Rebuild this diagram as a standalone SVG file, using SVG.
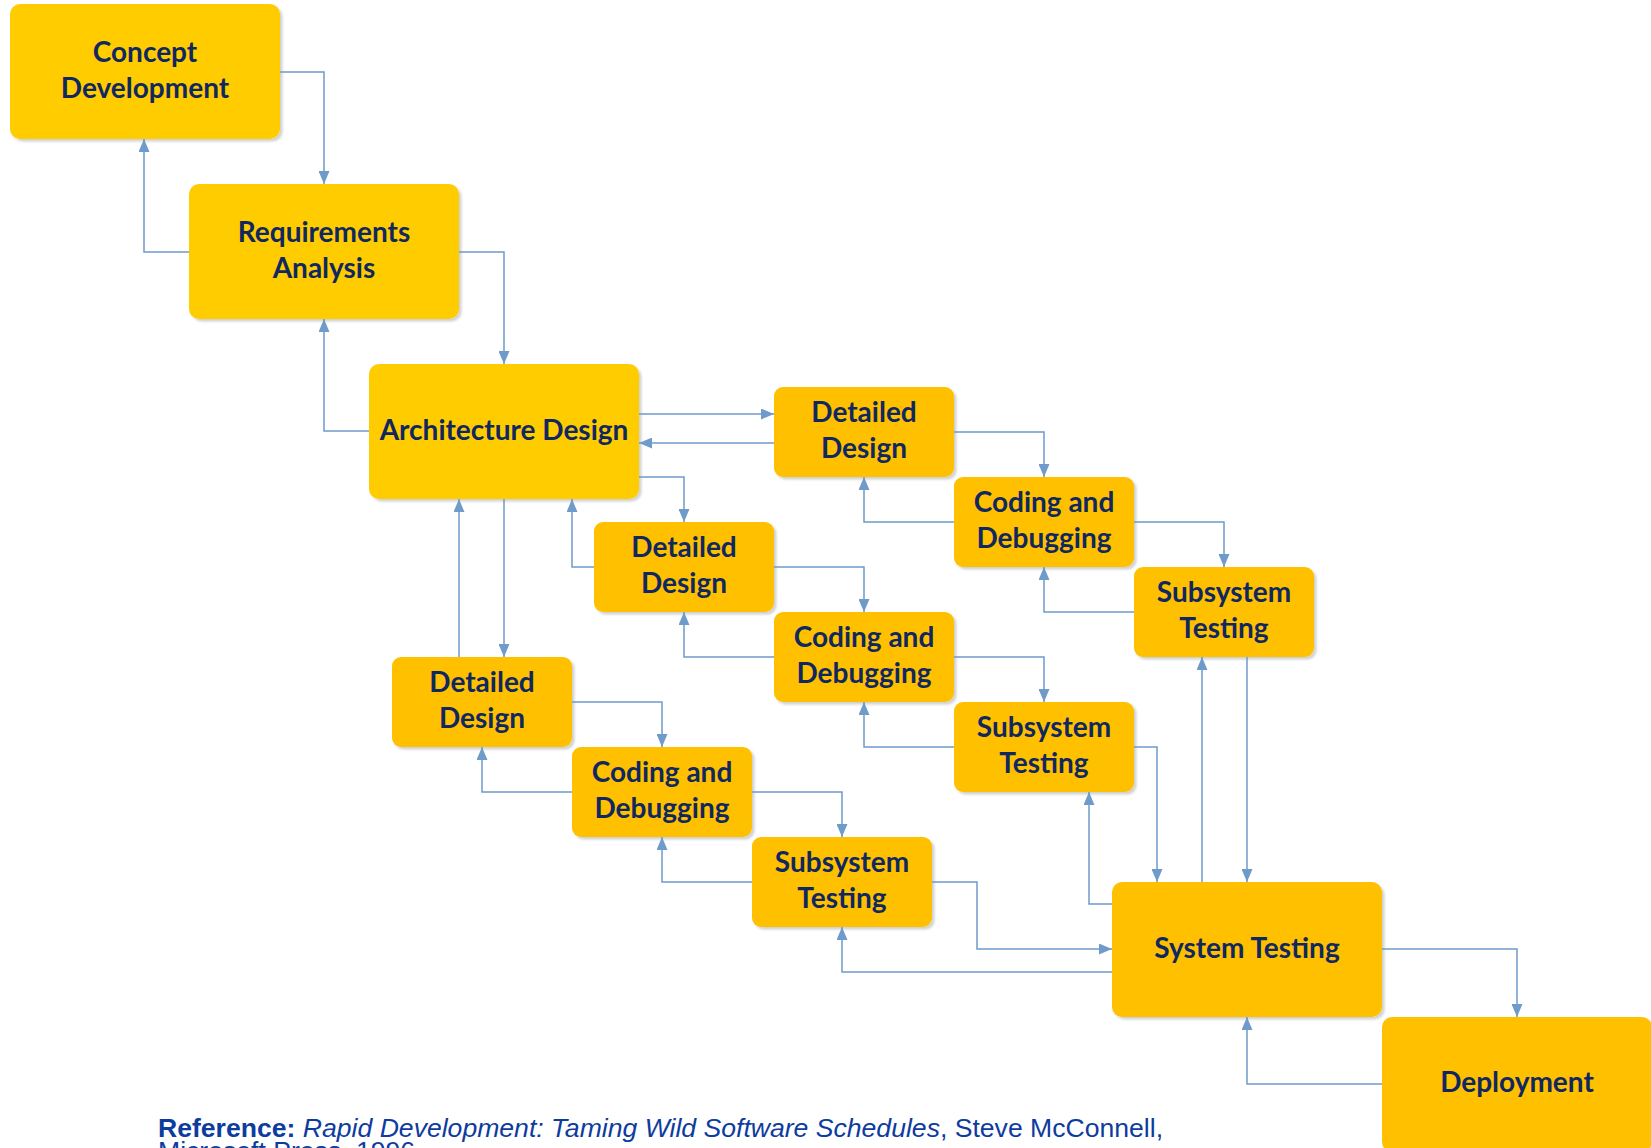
<svg xmlns="http://www.w3.org/2000/svg" width="1651" height="1148" viewBox="0 0 1651 1148">
<defs>
<style>
.big{fill:#FFCC00}
.sm{fill:#FFC000}
.node rect{filter:url(#sh)}
.lbl{font-family:Lato,"Liberation Sans",sans-serif;font-weight:700;font-size:28px;fill:#10285F;text-anchor:middle}
.conn path{fill:none;stroke:#6F9BCB;stroke-width:1.5;marker-end:url(#ah)}
.ref{font-family:"Liberation Sans",Arial,sans-serif;font-size:25px;fill:#0E3C9E}
</style>
<marker id="ah" markerUnits="userSpaceOnUse" markerWidth="13" markerHeight="11" refX="13" refY="5.5" orient="auto">
<path d="M0,0 L13,5.5 L0,11 z" fill="#6F9BCB"/>
</marker>
<filter id="sh" x="-5%" y="-5%" width="115%" height="120%">
<feDropShadow dx="2.5" dy="2.5" stdDeviation="1" flood-color="#000" flood-opacity="0.18"/>
</filter>
</defs>
<rect width="1651" height="1148" fill="#FFFFFF"/>

<g id="concept" class="node"><rect class="big" x="10" y="4" width="270" height="135" rx="10"/><text class="lbl" x="145" y="61.5">Concept</text><text class="lbl" x="145" y="97.5">Development</text></g>
<g id="requirements" class="node"><rect class="big" x="189" y="184" width="270" height="135" rx="10"/><text class="lbl" x="324" y="241.5">Requirements</text><text class="lbl" x="324" y="277.5">Analysis</text></g>
<g id="architecture" class="node"><rect class="big" x="369" y="364" width="270" height="135" rx="10"/><text class="lbl" x="504" y="439.5">Architecture Design</text></g>

<g id="dd1" class="node"><rect class="sm" x="774" y="387" width="180" height="90" rx="9"/><text class="lbl" x="864" y="422">Detailed</text><text class="lbl" x="864" y="458">Design</text></g>
<g id="cd1" class="node"><rect class="sm" x="954" y="477" width="180" height="90" rx="9"/><text class="lbl" x="1044" y="512">Coding and</text><text class="lbl" x="1044" y="548">Debugging</text></g>
<g id="st1" class="node"><rect class="sm" x="1134" y="567" width="180" height="90" rx="9"/><text class="lbl" x="1224" y="602">Subsystem</text><text class="lbl" x="1224" y="638">Testing</text></g>

<g id="dd2" class="node"><rect class="sm" x="594" y="522" width="180" height="90" rx="9"/><text class="lbl" x="684" y="557">Detailed</text><text class="lbl" x="684" y="593">Design</text></g>
<g id="cd2" class="node"><rect class="sm" x="774" y="612" width="180" height="90" rx="9"/><text class="lbl" x="864" y="647">Coding and</text><text class="lbl" x="864" y="683">Debugging</text></g>
<g id="st2" class="node"><rect class="sm" x="954" y="702" width="180" height="90" rx="9"/><text class="lbl" x="1044" y="737">Subsystem</text><text class="lbl" x="1044" y="773">Testing</text></g>

<g id="dd3" class="node"><rect class="sm" x="392" y="657" width="180" height="90" rx="9"/><text class="lbl" x="482" y="692">Detailed</text><text class="lbl" x="482" y="728">Design</text></g>
<g id="cd3" class="node"><rect class="sm" x="572" y="747" width="180" height="90" rx="9"/><text class="lbl" x="662" y="782">Coding and</text><text class="lbl" x="662" y="818">Debugging</text></g>
<g id="st3" class="node"><rect class="sm" x="752" y="837" width="180" height="90" rx="9"/><text class="lbl" x="842" y="872">Subsystem</text><text class="lbl" x="842" y="908">Testing</text></g>

<g id="system" class="node"><rect class="sm" x="1112" y="882" width="270" height="135" rx="10"/><text class="lbl" x="1247" y="957.5">System Testing</text></g>
<g id="deployment" class="node"><rect class="sm" x="1382" y="1017" width="270" height="135" rx="10"/><text class="lbl" x="1517" y="1092">Deployment</text></g>

<g id="connectors" class="conn">
<path d="M280,72 H324 V184"/>
<path d="M189,252 H144 V139"/>
<path d="M459,252 H504 V364"/>
<path d="M369,431 H324 V319"/>
<path d="M639,414 H774"/>
<path d="M774,443 H639"/>
<path d="M639,477 H684 V522"/>
<path d="M594,567 H572 V499"/>
<path d="M504,499 V657"/>
<path d="M459,657 V499"/>
<path d="M954,432 H1044 V477"/>
<path d="M954,522 H864 V477"/>
<path d="M1134,522 H1224 V567"/>
<path d="M1134,612 H1044 V567"/>
<path d="M1247,657 V882"/>
<path d="M1202,882 V657"/>
<path d="M774,567 H864 V612"/>
<path d="M774,657 H684 V612"/>
<path d="M954,657 H1044 V702"/>
<path d="M954,747 H864 V702"/>
<path d="M1134,747 H1157 V882"/>
<path d="M1112,904 H1089 V792"/>
<path d="M572,702 H662 V747"/>
<path d="M572,792 H482 V747"/>
<path d="M752,792 H842 V837"/>
<path d="M752,882 H662 V837"/>
<path d="M932,882 H977 V949 H1112"/>
<path d="M1112,972 H842 V927"/>
<path d="M1382,949 H1517 V1017"/>
<path d="M1382,1084 H1247 V1017"/>
</g>

<g id="reference" transform="translate(158,0) scale(1.064,1)">
<text class="ref" x="0" y="1137"><tspan font-weight="700">Reference:</tspan> <tspan font-style="italic">Rapid Development: Taming Wild Software Schedules</tspan>, Steve McConnell,</text>
<text class="ref" x="0" y="1160">Microsoft Press, 1996</text>
</g>
</svg>
